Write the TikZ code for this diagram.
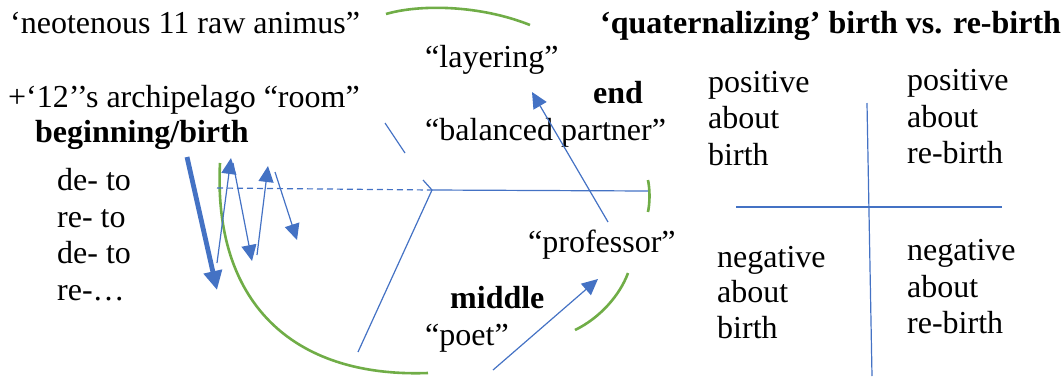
\documentclass[tikz,border=0pt]{standalone}
\usepackage{fontspec}
\setmainfont{Liberation Serif}
\usetikzlibrary{arrows.meta}
\definecolor{bl}{HTML}{4472C4}
\definecolor{gr}{HTML}{70AD47}
\begin{document}
\begin{tikzpicture}[x=1pt,y=-1pt,
  txt/.style={anchor=base west,inner sep=0pt,font=\fontsize{32}{36}\selectfont},
  btxt/.style={txt,font=\fontsize{32}{36}\selectfont\bfseries},
  bline/.style={draw=bl,line width=1.2pt},
  barrow/.style={bline,-{Triangle[length=16pt,width=15pt]}},
  thickarrow/.style={draw=bl,line width=4.8pt,-{Triangle[length=19pt,width=18pt]}},
  garc/.style={draw=gr,line width=2.6pt},
  qline/.style={draw=bl,line width=1.2pt}]
\useasboundingbox (0,0) rectangle (1061,376);
% texts
\node[txt] (t1) at (10,33) {‘neotenous 11 raw animus”};
\node[txt] (t2) at (8,107) {+‘12’’s archipelago “room”};
\node[btxt] (t3) at (35,142) {beginning/birth};
\node[txt] (d1) at (57,190) {de- to};
\node[txt] (d2) at (57,227) {re- to};
\node[txt] (d3) at (57,263) {de- to};
\node[txt] (d4) at (57,300) {re-…};
\node[btxt] (title) at (600,33) {‘quaternalizing’ birth vs. re-birth};
\node[txt] (lay) at (425,67) {“layering”};
\node[btxt] (end) at (593,103) {end};
\node[txt] (bal) at (425,140) {“balanced partner”};
\node[txt] (prof) at (528,252) {“professor”};
\node[btxt] (mid) at (450,308) {middle};
\node[txt] (poet) at (425,345) {“poet”};
% quadrants
\node[txt] (q1a) at (708,92) {positive};
\node[txt] (q1b) at (708,128) {about};
\node[txt] (q1c) at (708,165) {birth};
\node[txt] (q2a) at (907,90) {positive};
\node[txt] (q2b) at (907,127) {about};
\node[txt] (q2c) at (907,163) {re-birth};
\node[txt] (q3a) at (717,267) {negative};
\node[txt] (q3b) at (717,302) {about};
\node[txt] (q3c) at (717,338) {birth};
\node[txt] (q4a) at (907,260) {negative};
\node[txt] (q4b) at (907,297) {about};
\node[txt] (q4c) at (907,333) {re-birth};
\coordinate (vt) at (867,103);
\coordinate (vb) at (872,376);
\coordinate (hl) at (736,207);
\coordinate (hr) at (1002,207);
\draw[qline] (vt) -- (vb);
\draw[qline] (hl) -- (hr);
% green arcs
\coordinate (ga1) at (386,14); \coordinate (ga2) at (530,25);
\draw[garc] (ga1) .. controls (420,4) and (480,5) .. (ga2);
\coordinate (gb1) at (220,163); \coordinate (gb2) at (428,373);
\draw[garc] (gb1) .. controls (213,300) and (290,378) .. (gb2);
\coordinate (gc1) at (575,330); \coordinate (gc2) at (628,273);
\draw[garc] (gc1) .. controls (600,318) and (620,295) .. (gc2);
\coordinate (gd1) at (648,180); \coordinate (gd2) at (648,212);
\draw[garc] (gd1) .. controls (650,190) and (650,202) .. (gd2);
% blue connectors
\coordinate (ta) at (187,157);
\coordinate (tb) at (217,290);
\draw[thickarrow] (ta) -- (tb);
\coordinate (z1s) at (217,263); \coordinate (z1e) at (231,158);
\coordinate (z2s) at (233,163); \coordinate (z2e) at (252,261);
\coordinate (z3s) at (257,255); \coordinate (z3e) at (268,166);
\coordinate (z4s) at (275,172); \coordinate (z4e) at (297,240);
\draw[barrow] (z1s) -- (z1e);
\draw[barrow] (z2s) -- (z2e);
\draw[barrow] (z3s) -- (z3e);
\draw[barrow] (z4s) -- (z4e);
\coordinate (ds) at (217,188);
\coordinate (hub) at (432,190);
\coordinate (hend) at (648,191);
\coordinate (bot) at (358,352);
\coordinate (sh) at (423,180);
\coordinate (u1) at (385,123);
\coordinate (u2) at (405,153);
\draw[bline,dash pattern=on 6pt off 4pt] (ds) -- (hub);
\draw[bline] (hub) -- (hend);
\draw[bline] (bot) -- (hub);
\draw[bline] (sh) -- (hub);
\draw[bline] (u1) -- (u2);
\coordinate (p1) at (608,222);
\coordinate (p2) at (532,92);
\draw[barrow] (p1) -- (p2);
\coordinate (m1) at (493,370);
\coordinate (m2) at (598,279);
\draw[barrow] (m1) -- (m2);
\end{tikzpicture}
\end{document}
